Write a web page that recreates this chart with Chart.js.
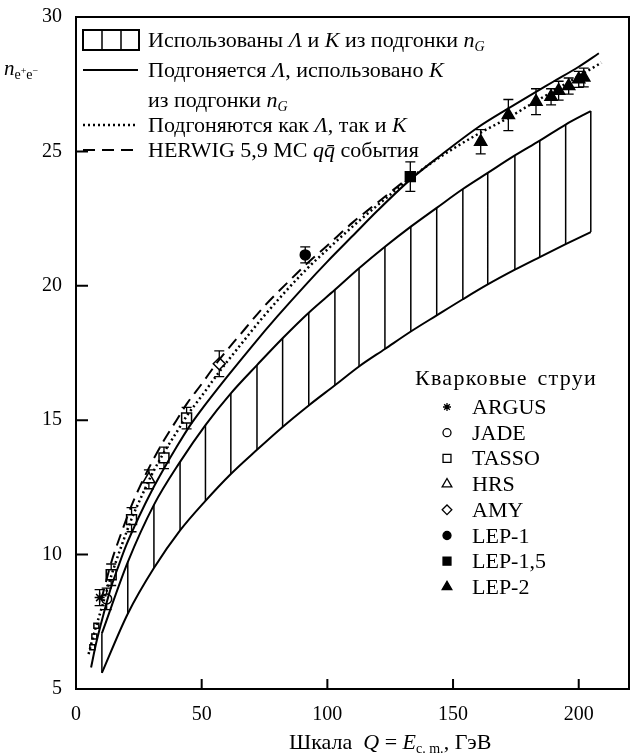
<!DOCTYPE html>
<html>
<head>
<meta charset="utf-8">
<script src="https://cdn.jsdelivr.net/npm/chart.js@4/dist/chart.umd.min.js"></script>
<style>
  body { margin: 0; background: #fff; }
  #wrap { position: relative; width: 631px; height: 756px; font-family: "Liberation Serif", serif; color: #000; }
  #wrap canvas { position: absolute; left: 0; top: 0; }
  .t { position: absolute; font-size: 22px; line-height: 22px; white-space: nowrap; }
  .t sub { font-size: 14px; vertical-align: -4px; line-height: 0; }
</style>
</head>
<body>
<div id="wrap">
  <canvas id="chart" width="631" height="756"></canvas>
  <div class="t" style="left:4px; top:57px; font-size:21px;"><i>n</i><sub>e<span style="font-size:10px; vertical-align:5px">+</span>e<span style="font-size:10px; vertical-align:5px">−</span></sub></div>

  <div class="t" style="left:148px; top:29px;">Использованы <i>Λ</i> и <i>K</i> из подгонки <i>n</i><sub><i>G</i></sub></div>
  <div class="t" style="left:148px; top:59px;">Подгоняется <i>Λ</i>, использовано <i>K</i></div>
  <div class="t" style="left:148px; top:89px;">из подгонки <i>n</i><sub><i>G</i></sub></div>
  <div class="t" style="left:148px; top:114px;">Подгоняются как <i>Λ</i>, так и <i>K</i></div>
  <div class="t" style="left:148px; top:139px;">HERWIG 5,9 MC <i>q</i><i>q̄</i> события</div>

  <div class="t" style="left:415px; top:367px; letter-spacing:1.3px; word-spacing:3px;">Кварковые струи</div>
  <div id="legRight"></div>

  <div class="t" style="left:289px; top:731px;">Шкала&nbsp; <i>Q</i> = <i>E</i><sub>c. m.</sub>, ГэВ</div>
</div>
<script>
// hatched band: Λ and K from n_G fit
const bandX = [10.3, 20.6, 31, 41.4, 51.5, 61.6, 72, 82.2, 92.6, 103, 112.6, 122.9, 133.2, 143.5, 153.9, 163.8, 174.6, 184.5, 194.8, 204.8];
const bandUpper = [7.07, 9.72, 11.85, 13.45, 14.82, 16.0, 17.05, 18.05, 19.0, 19.85, 20.65, 21.45, 22.2, 22.9, 23.6, 24.2, 24.85, 25.4, 26.0, 26.5];
const bandLower = [5.6, 7.8, 9.5, 10.9, 12.0, 13.0, 13.9, 14.75, 15.55, 16.3, 17.0, 17.65, 18.3, 18.9, 19.5, 20.05, 20.6, 21.07, 21.55, 22.0];

// solid: Λ fitted, K from n_G fit
const solidX = [6, 8, 10, 12, 14, 17, 20, 25, 30, 35, 40, 45, 50, 60, 70, 80, 91, 100, 110, 120, 133, 145, 160, 172, 180, 190, 200, 208];
const solidY = [5.8, 6.7, 7.45, 8.15, 8.8, 9.6, 10.35, 11.4, 12.35, 13.2, 14.0, 14.75, 15.4, 16.6, 17.75, 18.85, 20.0, 20.9, 21.85, 22.8, 23.95, 24.85, 25.9, 26.6, 27.05, 27.6, 28.15, 28.65];

// dotted: both Λ and K fitted
const dotX = [5, 7, 10, 14, 18, 22, 26, 30, 35, 40, 44, 50, 57, 65, 75, 91, 100, 110, 120, 133, 145, 160, 172, 180, 190, 200, 209];
const dotY = [6.3, 7.0, 7.95, 9.2, 10.3, 11.3, 12.15, 12.95, 13.8, 14.55, 15.15, 15.9, 16.8, 17.75, 18.9, 20.55, 21.35, 22.2, 23.0, 24.0, 24.8, 25.65, 26.25, 26.7, 27.25, 27.8, 28.3];

// dashed: HERWIG 5.9 MC
const herX = [10, 14, 18, 22, 26, 30, 35, 40, 44, 50, 57, 65, 75, 85, 91, 100, 110, 120, 130];
const herY = [8.3, 9.7, 10.8, 11.8, 12.65, 13.4, 14.25, 15.0, 15.6, 16.35, 17.25, 18.15, 19.25, 20.2, 20.75, 21.5, 22.35, 23.1, 23.85];

// experiments
const argusX = [9.4], argusY = [8.4], argusErr = [0.3];
const jadeX = [12.2], jadeY = [8.35], jadeErr = [0.4];
const tassoX = [6.5, 7.3, 8.1, 14.0, 22.1, 35.0, 44.0];
const tassoY = [6.55, 6.95, 7.35, 9.25, 11.3, 13.6, 15.08];
const tassoErr = [0, 0, 0, 0.4, 0.45, 0.4, 0.4];
const hrsX = [29], hrsY = [12.8], hrsErr = [0.35];
const amyX = [57], amyY = [17.1], amyErr = [0.48];
const lep1X = [91.2], lep1Y = [21.15], lep1Err = [0.3];
const lep15X = [133], lep15Y = [24.06], lep15Err = [0.55];
const lep2X = [161, 172, 183, 189, 192, 196, 200, 202];
const lep2Y = [25.36, 26.35, 26.85, 27.03, 27.26, 27.43, 27.68, 27.75];
const lep2Err = [0.45, 0.58, 0.48, 0.3, 0.35, 0.3, 0.3, 0.35];

const xTicks = [0, 50, 100, 150, 200];
const yTicks = [5, 10, 15, 20, 25, 30];

const xy = (xs, ys) => xs.map((x, i) => ({ x: x, y: ys[i] }));

let hatch = [];
bandX.forEach((x, i) => {
    hatch.push({ x: x, y: bandLower[i] }, { x: x, y: bandUpper[i] }, { x: x, y: null });
});

const lineBase = { pointRadius: 0, fill: false, borderColor: '#000', cubicInterpolationMode: 'monotone' };

const series = [
    { name: 'ARGUS', xs: argusX, ys: argusY, err: argusErr, style: 'star', fill: '#000', r: 5 },
    { name: 'JADE', xs: jadeX, ys: jadeY, err: jadeErr, style: 'circle', fill: '#fff', r: 5 },
    { name: 'TASSO', xs: tassoX, ys: tassoY, err: tassoErr, style: 'rect', fill: '#fff', r: 7 },
    { name: 'HRS', xs: hrsX, ys: hrsY, err: hrsErr, style: 'triangle', fill: '#fff', r: 7 },
    { name: 'AMY', xs: amyX, ys: amyY, err: amyErr, style: 'rectRot', fill: '#fff', r: 6 },
    { name: 'LEP-1', xs: lep1X, ys: lep1Y, err: lep1Err, style: 'circle', fill: '#000', r: 5 },
    { name: 'LEP-1,5', xs: lep15X, ys: lep15Y, err: lep15Err, style: 'rect', fill: '#000', r: 7 },
    { name: 'LEP-2', xs: lep2X, ys: lep2Y, err: lep2Err, style: 'triangle', fill: '#000', r: 7 }
];

let datasets = [
    Object.assign({}, lineBase, { data: xy(bandX, bandUpper), borderWidth: 2 }),
    Object.assign({}, lineBase, { data: xy(bandX, bandLower), borderWidth: 2 }),
    { data: hatch, pointRadius: 0, borderColor: '#000', borderWidth: 1.5, spanGaps: false, tension: 0 },
    Object.assign({}, lineBase, { data: xy(solidX, solidY), borderWidth: 2 }),
    Object.assign({}, lineBase, { data: xy(dotX, dotY), borderWidth: 2.5, borderDash: [2, 3] }),
    Object.assign({}, lineBase, { data: xy(herX, herY), borderWidth: 2, borderDash: [12, 7] })
];
series.forEach(s => {
    let radii = s.xs.map((x, i) => s.name === 'TASSO' && s.err[i] === 0 ? 3.5 : s.r);
    datasets.push({
        data: xy(s.xs, s.ys), showLine: false, pointStyle: s.style,
        pointRadius: radii, pointBackgroundColor: s.fill, pointBorderColor: '#000',
        pointBorderWidth: 1.5
    });
});

const FONT = '"Liberation Serif", serif';

const framePlugin = {
    id: 'frame',
    beforeDatasetsDraw(chart) {
        const ctx = chart.ctx, xs = chart.scales.x, ys = chart.scales.y;
        ctx.save();
        ctx.strokeStyle = '#000';
        ctx.lineWidth = 1.3;
        series.forEach(s => {
            s.xs.forEach((x, i) => {
                if (!s.err[i]) return;
                const px = xs.getPixelForValue(x);
                const p1 = ys.getPixelForValue(s.ys[i] - s.err[i]);
                const p2 = ys.getPixelForValue(s.ys[i] + s.err[i]);
                ctx.beginPath();
                ctx.moveTo(px, p1); ctx.lineTo(px, p2);
                ctx.moveTo(px - 5, p1); ctx.lineTo(px + 5, p1);
                ctx.moveTo(px - 5, p2); ctx.lineTo(px + 5, p2);
                ctx.stroke();
            });
        });
        ctx.restore();
    },
    afterDraw(chart) {
        const ctx = chart.ctx, a = chart.chartArea;
        const xs = chart.scales.x, ys = chart.scales.y;
        ctx.save();
        ctx.strokeStyle = '#000';
        ctx.lineWidth = 2;
        ctx.strokeRect(a.left, a.top, a.right - a.left, a.bottom - a.top);
        // inward ticks
        ctx.beginPath();
        xTicks.forEach(v => {
            if (v === 0) return;
            const p = xs.getPixelForValue(v);
            ctx.moveTo(p, a.bottom); ctx.lineTo(p, a.bottom - 10);
        });
        yTicks.forEach(v => {
            if (v === 5 || v === 30) return;
            const p = ys.getPixelForValue(v);
            ctx.moveTo(a.left, p); ctx.lineTo(a.left + 12, p);
        });
        ctx.stroke();

        // top-left legend symbols
        ctx.lineWidth = 2;
        ctx.strokeRect(83, 30, 56, 20);
        ctx.lineWidth = 1.5;
        ctx.beginPath();
        ctx.moveTo(102, 30); ctx.lineTo(102, 50);
        ctx.moveTo(121, 30); ctx.lineTo(121, 50);
        ctx.stroke();
        ctx.lineWidth = 2;
        ctx.beginPath(); ctx.moveTo(83, 70); ctx.lineTo(138, 70); ctx.stroke();
        ctx.lineWidth = 2.5;
        ctx.setLineDash([2, 3]);
        ctx.beginPath(); ctx.moveTo(83, 125); ctx.lineTo(138, 125); ctx.stroke();
        ctx.lineWidth = 2;
        ctx.setLineDash([12, 7]);
        ctx.beginPath(); ctx.moveTo(83, 150); ctx.lineTo(140, 150); ctx.stroke();
        ctx.setLineDash([]);

        // right legend markers
        ctx.lineWidth = 1.3;
        series.forEach((s, i) => {
            const y = 407 + i * 25.7;
            ctx.fillStyle = s.fill;
            Chart.helpers.drawPoint(ctx, { pointStyle: s.style, radius: s.r * 0.8, rotation: 0, borderWidth: 1.3 }, 447, y);
        });
        ctx.restore();
    }
};

// right legend labels
const legRight = document.getElementById('legRight');
series.forEach((s, i) => {
    const d = document.createElement('div');
    d.className = 't';
    d.style.left = '472px';
    d.style.top = (396 + i * 25.7) + 'px';
    d.textContent = s.name;
    legRight.appendChild(d);
});

const noPad = s => { s.paddingLeft = 0; s.paddingRight = 0; s.paddingTop = 0; s.paddingBottom = 0; };

new Chart(document.getElementById('chart'), {
    type: 'line',
    data: { datasets: datasets },
    options: {
        responsive: false,
        devicePixelRatio: 1,
        animation: false,
        layout: { autoPadding: false, padding: { top: 17, right: 2, left: 0, bottom: 0 } },
        plugins: { legend: { display: false }, tooltip: { enabled: false } },
        scales: {
            x: {
                type: 'linear', min: 0, max: 220,
                grid: { display: false, drawTicks: false },
                border: { display: false },
                afterBuildTicks: s => { s.ticks = xTicks.map(v => ({ value: v })); },
                afterFit: s => { s.height = 67; noPad(s); },
                ticks: { color: '#000', font: { family: FONT, size: 20 }, padding: 14, maxRotation: 0 }
            },
            y: {
                type: 'linear', min: 5, max: 30,
                grid: { display: false, drawTicks: false },
                border: { display: false },
                afterBuildTicks: s => { s.ticks = yTicks.map(v => ({ value: v })); },
                afterFit: s => { s.width = 76; noPad(s); },
                ticks: { color: '#000', font: { family: FONT, size: 20 }, padding: 14 }
            }
        }
    },
    plugins: [framePlugin]
});
</script>
</body>
</html>
